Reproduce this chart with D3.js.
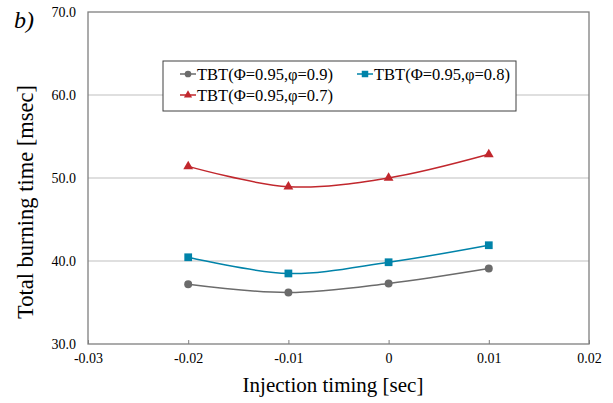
<!DOCTYPE html>
<html>
<head>
<meta charset="utf-8">
<script src="https://cdn.jsdelivr.net/npm/d3@7"></script>
<style>
  body { margin: 0; background: #fff; }
  svg text { font-family: "Liberation Serif", "Times New Roman", serif; fill: #000; }
</style>
</head>
<body>
<svg width="613" height="403"></svg>
<script>
// data
var timings = [-0.02, -0.01, 0, 0.01];
var tbt09 = [37.2, 36.2, 37.3, 39.1];
var tbt08 = [40.45, 38.5, 39.85, 41.9];
var tbt07 = [51.4, 48.95, 50.0, 52.85];
var xTicks = [-0.03, -0.02, -0.01, 0, 0.01, 0.02];
var yTicks = [30, 40, 50, 60, 70];

var serif = '"Liberation Serif", "Times New Roman", serif';

var series = [
  { name: 'TBT(\u03A6=0.95,\u03C6=0.9)', values: tbt09, color: '#6b6b6b', marker: 'circle' },
  { name: 'TBT(\u03A6=0.95,\u03C6=0.8)', values: tbt08, color: '#0083a9', marker: 'square' },
  { name: 'TBT(\u03A6=0.95,\u03C6=0.7)', values: tbt07, color: '#c1272d', marker: 'triangle' }
];

var svg = d3.select('svg');

var xScale = d3.scaleLinear().domain([-0.03, 0.02]).range([88, 589]);
var yScale = d3.scaleLinear().domain([30, 70]).range([344, 12]);

// gridlines
svg.append('g').selectAll('line')
  .data(yTicks.slice(1, -1)).enter()
  .append('line')
  .attr('x1', 88).attr('x2', 589)
  .attr('y1', function (d) { return yScale(d); })
  .attr('y2', function (d) { return yScale(d); })
  .style('stroke', '#bfbfbf').style('stroke-width', 1);

// plot border
svg.append('rect')
  .attr('x', 88).attr('y', 12)
  .attr('width', 589 - 88).attr('height', 344 - 12)
  .style('fill', 'none').style('stroke', '#7f7f7f').style('stroke-width', 1.3);

// x axis
var xAxis = svg.append('g').attr('class', 'x axis')
  .attr('transform', 'translate(0,344)')
  .call(d3.axisBottom(xScale).tickValues(xTicks).tickSizeInner(-4).tickSizeOuter(0).tickPadding(9)
    .tickFormat(function (d) { return d === 0 ? '0' : d.toFixed(2); }));
xAxis.attr('font-family', serif).attr('font-size', 14);
xAxis.select('.domain').remove();
xAxis.selectAll('.tick line').style('stroke', '#7f7f7f');

// y axis
var yAxis = svg.append('g').attr('class', 'y axis')
  .attr('transform', 'translate(88,0)')
  .call(d3.axisLeft(yScale).tickValues(yTicks).tickSize(0).tickPadding(12)
    .tickFormat(function (d) { return d.toFixed(1); }));
yAxis.attr('font-family', serif).attr('font-size', 14);
yAxis.select('.domain').remove();

// lines
var line = d3.line()
  .x(function (d, i) { return xScale(timings[i]); })
  .y(function (d) { return yScale(d); })
  .curve(d3.curveCatmullRom.alpha(0.5));

series.forEach(function (s) {
  svg.append('path')
    .datum(s.values)
    .attr('d', line)
    .style('fill', 'none')
    .style('stroke', s.color)
    .style('stroke-width', 1.5);
});

function drawMarker(g, type, color, x, y, scale) {
  var sym = type === 'circle' ? d3.symbolCircle : type === 'square' ? d3.symbolSquare : d3.symbolTriangle;
  var size = type === 'circle' ? 50 : type === 'square' ? 60 : 42;
  g.append('path')
    .attr('d', d3.symbol().type(sym).size(size * scale)())
    .attr('transform', 'translate(' + x + ',' + y + ')')
    .style('fill', color);
}

series.forEach(function (s) {
  var g = svg.append('g');
  s.values.forEach(function (v, i) {
    drawMarker(g, s.marker, s.color, xScale(timings[i]), yScale(v), 1);
  });
});

// legend
svg.append('rect')
  .attr('x', 163).attr('y', 61)
  .attr('width', 353).attr('height', 50)
  .style('fill', '#fff').style('stroke', '#404040').style('stroke-width', 1);

var legendPos = [[180, 74], [357, 74], [180, 95]];
series.forEach(function (s, i) {
  var p = legendPos[i];
  svg.append('line')
    .attr('x1', p[0]).attr('x2', p[0] + 16)
    .attr('y1', p[1]).attr('y2', p[1])
    .style('stroke', s.color).style('stroke-width', 1.5);
  drawMarker(svg, s.marker, s.color, p[0] + 8, p[1], 0.7);
  svg.append('text')
    .attr('x', p[0] + 17).attr('y', p[1] + 6)
    .style('font-family', serif)
    .style('font-size', '16.5px')
    .text(s.name);
});

// labels
svg.append('text')
  .attr('text-anchor', 'middle')
  .attr('transform', 'translate(333,392)')
  .style('font-family', serif)
  .style('font-size', '21px')
  .text('Injection timing [sec]');

svg.append('text')
  .attr('text-anchor', 'middle')
  .attr('transform', 'translate(33,202) rotate(-90)')
  .style('font-family', serif)
  .style('font-size', '22.5px')
  .text('Total burning time [msec]');

svg.append('text')
  .attr('x', 14).attr('y', 28)
  .style('font-family', serif)
  .style('font-size', '24px')
  .style('font-style', 'italic')
  .text('b)');
</script>
</body>
</html>
